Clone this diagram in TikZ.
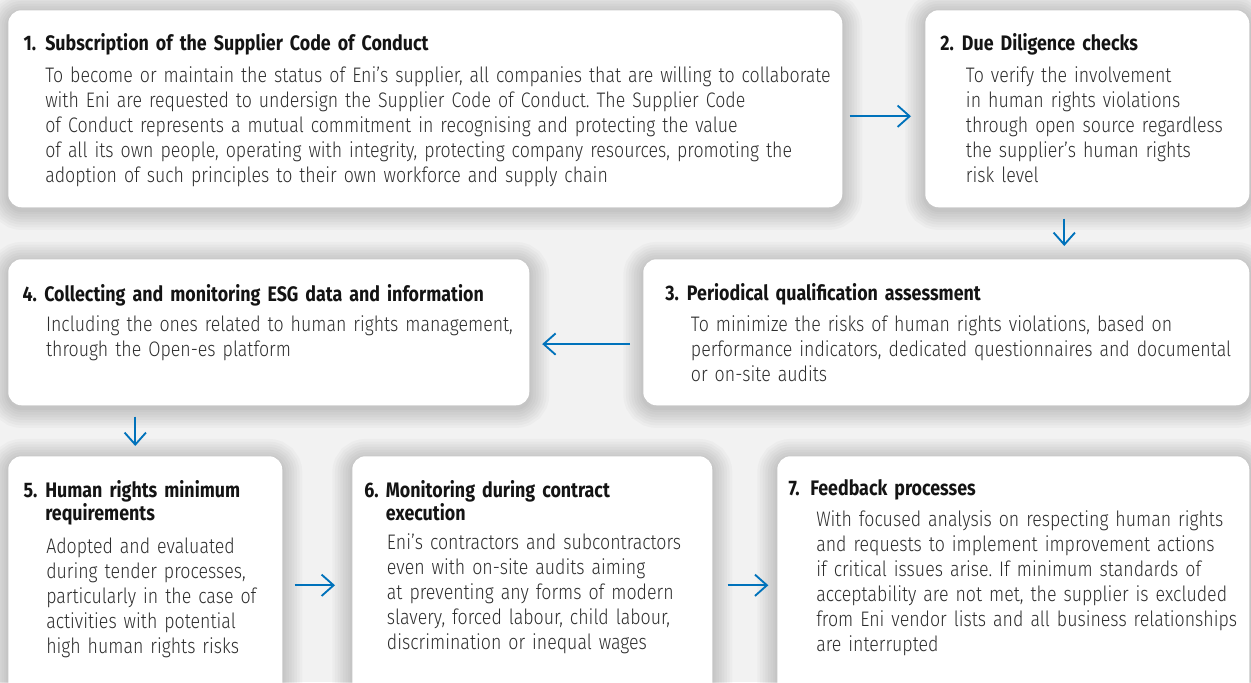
\documentclass[tikz,border=0pt]{standalone}
\usepackage{fontspec}
\newfontfamily\titlefont{Fira Sans}[FakeStretch=0.85]
\newfontfamily\bodyfont{Fira Sans}[UprightFont={* Light},FakeStretch=0.846]
\usetikzlibrary{positioning,arrows.meta}
\frenchspacing

\definecolor{flowblue}{RGB}{0,114,187}
\definecolor{paper}{RGB}{242,242,242}
\definecolor{ink}{RGB}{45,45,45}

\tikzset{
  haze/.style={preaction={draw=black, draw opacity=0.022, line width=#1, transform canvas={yshift=-2pt}}},
  card/.style={rectangle, fill=white, rounded corners=10pt, anchor=north west, inner sep=0pt,
    haze=30pt, haze=26pt, haze=22pt, haze=18pt, haze=14pt, haze=10pt, haze=6pt, haze=3pt},
  heading/.style={anchor=base west, inner sep=0pt, text width=420pt, align=left,
    font=\titlefont\bfseries\fontsize{15.75}{17.6}\selectfont, text=black!92},
  body/.style={anchor=base west, inner sep=0pt, text width=640pt, align=left,
    font=\bodyfont\fontsize{15.75}{18.75}\selectfont, text=ink},
  flow/.style={draw=flowblue, line width=1.4pt, -{Straight Barb[length=9pt,width=16pt]}}
}
\newcommand\stepnum[1]{\leavevmode\llap{\makebox[16.25pt][l]{#1}}}

\begin{document}
\begin{tikzpicture}[x=0.75pt,y=-0.75pt]
  \path[use as bounding box, fill=paper] (0,0) rectangle (1251,682);
  \clip (0,0) rectangle (1251,682);

  % boxes
  \node (code) [card, minimum width=625.5pt, minimum height=147.75pt] at (8,10) {};
  \node (diligence) [card, minimum width=243pt, minimum height=147.75pt] at (925,10) {};
  \node (esg) [card, minimum width=390.75pt, minimum height=109.5pt] at (8,259) {};
  \node (assess) [card, minimum width=454.5pt, minimum height=109.5pt] at (643,259) {};
  \node (minreq) [card, minimum width=205.5pt, minimum height=183pt] at (8,456) {};
  \node (monitor) [card, minimum width=270pt, minimum height=183pt] at (352,456) {};
  \node (feedback) [card, minimum width=354pt, minimum height=183pt] at (777,456) {};

  % texts
  \node (code-title) [heading] at ([shift={(37,40.7)}]code.north west)
    {\stepnum{1.}Subscription of the Supplier Code of Conduct};
  \node (code-text) [body] at ([shift={(37,72.3)}]code.north west)
    {To become or maintain the status of Eni’s supplier, all companies that are willing to collaborate\\
     with Eni are requested to undersign the Supplier Code of Conduct. The Supplier Code\\
     of Conduct represents a mutual commitment in recognising and protecting the value\\
     of all its own people, operating with integrity, protecting company resources, promoting the\\
     adoption of such principles to their own workforce and supply chain};

  \node (diligence-title) [heading] at ([shift={(36.7,40)}]diligence.north west)
    {\stepnum{2.}Due Diligence checks};
  \node (diligence-text) [body] at ([shift={(40.7,72.5)}]diligence.north west)
    {To verify the involvement\\
     in human rights violations\\
     through open source regardless\\
     the supplier’s human rights\\
     risk level};

  \node (assess-title) [heading] at ([shift={(43.7,41.5)}]assess.north west)
    {\stepnum{3.}Periodical qualification assessment};
  \node (assess-text) [body] at ([shift={(47.7,72.5)}]assess.north west)
    {To minimize the risks of human rights violations, based on\\
     performance indicators, dedicated questionnaires and documental\\
     or on-site audits};

  \node (esg-title) [heading] at ([shift={(36,42)}]esg.north west)
    {\stepnum{4.}Collecting and monitoring ESG data and information};
  \node (esg-text) [body] at ([shift={(37.8,72.5)}]esg.north west)
    {Including the ones related to human rights management,\\
     through the Open-es platform};

  \node (minreq-title) [heading] at ([shift={(37,41)}]minreq.north west)
    {\stepnum{5.}Human rights minimum\\ requirements};
  \node (minreq-text) [body] at ([shift={(38,97)}]minreq.north west)
    {Adopted and evaluated\\
     during tender processes,\\
     particularly in the case of\\
     activities with potential\\
     high human rights risks};

  \node (monitor-title) [heading] at ([shift={(33.7,41)}]monitor.north west)
    {\stepnum{6.}Monitoring during contract\\ execution};
  \node (monitor-text) [body] at ([shift={(34.7,93)}]monitor.north west)
    {Eni’s contractors and subcontractors\\
     even with on-site audits aiming\\
     at preventing any forms of modern\\
     slavery, forced labour, child labour,\\
     discrimination or inequal wages};

  \node (feedback-title) [heading] at ([shift={(33,39.5)}]feedback.north west)
    {\stepnum{7.}Feedback processes};
  \node (feedback-text) [body] at ([shift={(39,70.7)}]feedback.north west)
    {With focused analysis on respecting human rights\\
     and requests to implement improvement actions\\
     if critical issues arise. If minimum standards of\\
     acceptability are not met, the supplier is excluded\\
     from Eni vendor lists and all business relationships\\
     are interrupted};

  % arrows
  \draw[flow, shorten <=5.25pt, shorten >=10.5pt] ([yshift=-5.6pt]code.east) -- ([yshift=-5.6pt]diligence.west);
  \draw[flow, shorten <=8.25pt, shorten >=9.75pt] ([xshift=-17.25pt]diligence.south) -- ([xshift=-17.25pt]diligence.south |- assess.north);
  \draw[flow, shorten <=9.75pt, shorten >=9.5pt] ([yshift=-8.85pt]assess.west) -- ([yshift=-8.85pt]esg.east);
  \draw[flow, shorten <=8.25pt, shorten >=7.5pt] ([xshift=-7.5pt]minreq.north |- esg.south) -- ([xshift=-7.5pt]minreq.north);
  \draw[flow, shorten <=9pt, shorten >=12.75pt] ([yshift=-5.25pt]minreq.east) -- ([yshift=-5.25pt]monitor.west);
  \draw[flow, shorten <=11.25pt, shorten >=6.5pt] ([yshift=-5.25pt]monitor.east) -- ([yshift=-5.25pt]feedback.west);
\end{tikzpicture}
\end{document}
